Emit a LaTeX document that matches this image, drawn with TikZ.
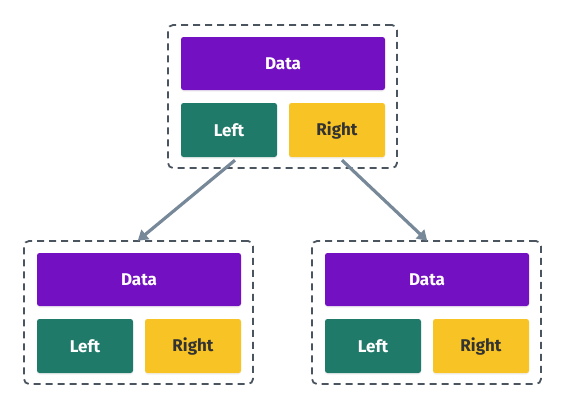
\documentclass[tikz,border=0pt]{standalone}
\usepackage{fontspec}
\setmainfont{Fira Sans}
\usetikzlibrary{arrows.meta,shadows}
\definecolor{dpurple}{HTML}{7210C2}
\definecolor{lgreen}{HTML}{1F7A6A}
\definecolor{ryellow}{HTML}{F7C325}
\definecolor{boxline}{HTML}{4A5560}
\definecolor{arrowc}{HTML}{778899}
\definecolor{darktext}{HTML}{333333}
\tikzset{
  cell/.style={rounded corners=2.5pt, inner sep=0pt, font=\fontsize{17}{20}\selectfont\bfseries,
    drop shadow={shadow xshift=0pt, shadow yshift=-1.5pt, opacity=0.12}},
  datacell/.style={cell, fill=dpurple, text=white, minimum width=204pt, minimum height=53pt},
  leftcell/.style={cell, fill=lgreen, text=white, minimum width=96pt, minimum height=54pt},
  rightcell/.style={cell, fill=ryellow, text=darktext, minimum width=96pt, minimum height=54pt},
  container/.style={draw=boxline, line width=1.8pt, dash pattern=on 7pt off 5pt, rounded corners=5pt,
    minimum width=229pt, minimum height=143pt, inner sep=0pt},
  link/.style={draw=arrowc, line width=3.2pt, -{Triangle[length=10pt,width=12pt]}, shorten >=-1pt}
}
\begin{document}
\begin{tikzpicture}[x=1pt,y=-1pt]
\useasboundingbox (0,0) rectangle (566,410);
% top
\node[container] (c0) at (282.5,96.5) {};
\node[datacell] (d0) at (283,63.5) {Data};
\node[leftcell] (l0) at (229,130) {Left};
\node[rightcell] (r0) at (337,130) {Right};
% bottom left
\node[container] (c1) at (138.5,312.5) {};
\node[datacell] (d1) at (139,279.5) {Data};
\node[leftcell] (l1) at (85,346) {Left};
\node[rightcell] (r1) at (193,346) {Right};
% bottom right
\node[container] (c2) at (426.5,312.5) {};
\node[datacell] (d2) at (427,279.5) {Data};
\node[leftcell] (l2) at (373,346) {Left};
\node[rightcell] (r2) at (481,346) {Right};
% arrows
\coordinate (s1) at ([xshift=6pt,yshift=-3pt]l0.south);
\coordinate (s2) at ([xshift=5pt,yshift=-3pt]r0.south);
\draw[link] (s1) -- (c1.north);
\draw[link] (s2) -- (c2.north);
\end{tikzpicture}
\end{document}
